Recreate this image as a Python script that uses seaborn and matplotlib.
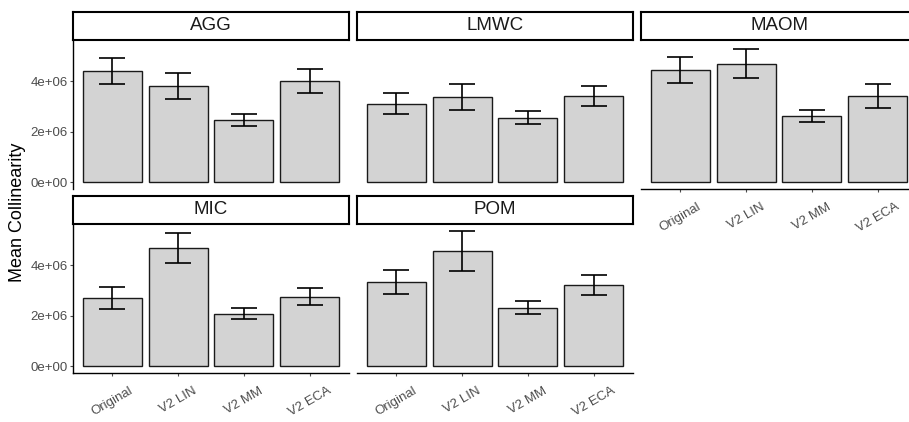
import matplotlib
matplotlib.use('Agg')
import numpy as np
import pandas as pd
import matplotlib.pyplot as plt
import seaborn as sns
from matplotlib.ticker import FuncFormatter

sns.set_theme(style="white")
plt.rcParams['font.family'] = ['Liberation Sans', 'DejaVu Sans']

# data
methods = ["Original", "V2 LIN", "V2 MM", "V2 ECA"]
fractions = ["AGG", "LMWC", "MAOM", "MIC", "POM"]

agg_mean = [4.40e6, 3.80e6, 2.47e6, 4.01e6]
agg_se = [0.515e6, 0.525e6, 0.235e6, 0.47e6]
lmwc_mean = [3.11e6, 3.37e6, 2.55e6, 3.40e6]
lmwc_se = [0.425e6, 0.50e6, 0.25e6, 0.395e6]
maom_mean = [4.45e6, 4.69e6, 2.61e6, 3.41e6]
maom_se = [0.52e6, 0.585e6, 0.23e6, 0.46e6]
mic_mean = [2.70e6, 4.68e6, 2.08e6, 2.75e6]
mic_se = [0.435e6, 0.595e6, 0.22e6, 0.345e6]
pom_mean = [3.33e6, 4.56e6, 2.32e6, 3.21e6]
pom_se = [0.46e6, 0.795e6, 0.245e6, 0.405e6]

means = [agg_mean, lmwc_mean, maom_mean, mic_mean, pom_mean]
ses = [agg_se, lmwc_se, maom_se, mic_se, pom_se]

df = pd.concat([
    pd.DataFrame({"Fraction": f, "Method": methods, "Mean": m, "SE": s})
    for f, m, s in zip(fractions, means, ses)
], ignore_index=True)

W, H = 909, 422
fig = plt.figure(figsize=(W / 100, H / 100), dpi=100)

# panel layout in pixels (left, top of panel)
col_left = [73, 357, 641]
row_top = [40, 224]
pw, ph, sh = 276, 149, 28

ymax = (df["Mean"] + df["SE"]).max()
ylim = (-0.05 * ymax, 1.05 * ymax)
tick_col = "#4D4D4D"

for i, frac in enumerate(fractions):
    r, c = divmod(i, 3)
    l, t = col_left[c], row_top[r]
    ax = fig.add_axes([l / W, 1 - (t + ph) / H, pw / W, ph / H])
    sax = fig.add_axes([l / W, 1 - t / H, pw / W, sh / H])

    sub = df[df["Fraction"] == frac]
    sns.barplot(data=sub, x="Method", y="Mean", order=methods, ax=ax,
                color="#D3D3D3", saturation=1, edgecolor="#1a1a1a",
                linewidth=1.0, width=0.9, errorbar=None)
    ax.errorbar(np.arange(len(methods)), sub["Mean"], yerr=sub["SE"],
                fmt="none", ecolor="black", elinewidth=1.2, capsize=9.4,
                capthick=1.2)

    ax.set_xlim(-0.6, 3.6)
    ax.set_ylim(*ylim)
    ax.set_xlabel("")
    ax.set_ylabel("")
    ax.set_yticks([0, 2e6, 4e6])
    ax.yaxis.set_major_formatter(FuncFormatter(lambda v, p: f"{v:.0e}"))
    for sp in ["top", "right"]:
        ax.spines[sp].set_visible(False)
    for sp in ["left", "bottom"]:
        ax.spines[sp].set_color("black")
        ax.spines[sp].set_linewidth(1.0)

    show_left = c == 0
    show_bottom = i >= 2
    ax.spines["left"].set_visible(show_left)
    ax.spines["bottom"].set_visible(show_bottom)
    ax.tick_params(axis="y", left=show_left, labelleft=show_left,
                   length=2.5, width=0.8, color=tick_col, labelcolor=tick_col,
                   labelsize=9.5, pad=1.5)
    ax.tick_params(axis="x", bottom=show_bottom, labelbottom=show_bottom,
                   length=2.5, width=0.8, color=tick_col, labelcolor=tick_col,
                   labelsize=9.5, pad=6)
    if show_bottom:
        for lab in ax.get_xticklabels():
            lab.set_rotation(30)
            lab.set_ha("center")
    ax.patch.set_alpha(0)

    # strip
    sax.set_xticks([])
    sax.set_yticks([])
    sax.set_facecolor("white")
    for sp in sax.spines.values():
        sp.set_color("black")
        sp.set_linewidth(1.5)
    sax.text(0.5, 0.5, frac, ha="center", va="center", fontsize=13.5,
             color="#1a1a1a", transform=sax.transAxes)

fig.text(18 / W, 1 - 212 / H, "Mean Collinearity", rotation=90,
         ha="center", va="center", fontsize=13, color="black")

fig.savefig("out.png", dpi=100)
